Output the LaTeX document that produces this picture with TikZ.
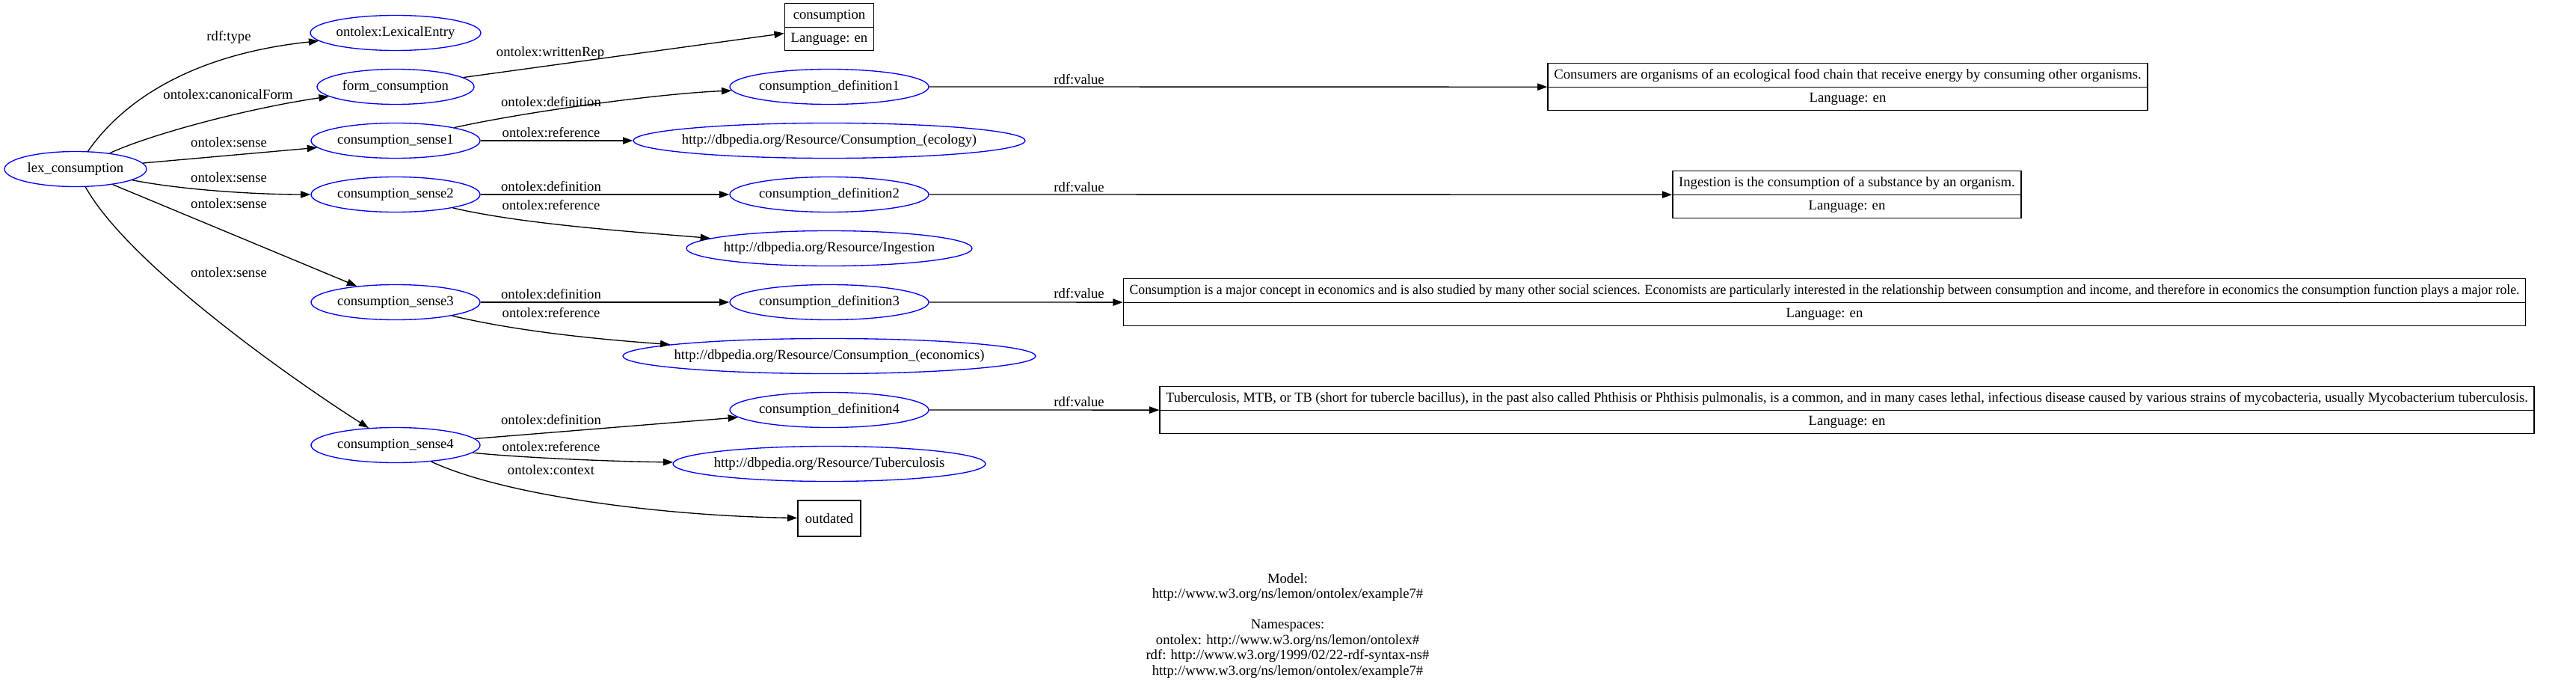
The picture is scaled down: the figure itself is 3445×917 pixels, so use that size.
\documentclass[tikz,border=0pt]{standalone}
\usepackage{fontspec}
\usepackage{graphicx}
\setmainfont{Liberation Serif}
\usetikzlibrary{shapes.geometric, arrows.meta, fit}
\begin{document}
\begin{tikzpicture}[x=0.75pt, y=-0.75pt,
  every node/.style={font=\fontsize{14}{15.375}\selectfont},
  ell/.style={ellipse, draw=blue, line width=1pt, inner sep=0pt, minimum height=35.25pt},
  lbl/.style={inner sep=0pt, text height=10pt, text depth=2pt},
  cell/.style={inner xsep=6pt, inner ysep=0pt, minimum height=23.25pt, text height=10pt, text depth=3pt},
  recbox/.style={draw, line width=1pt, inner sep=0pt},
  arr/.style={draw, line width=1pt, -{Triangle[length=10pt,width=7pt]}},
  rule/.style={line width=1pt}
]
\useasboundingbox (0,0) rectangle (3445,917);

% entity nodes
\node[ell, minimum width=190*0.75pt] (lex) at (101,226) {\makebox[0pt]{lex\_consumption}};
\node[ell, minimum width=228*0.75pt] (lexent) at (529,44) {\makebox[0pt]{ontolex:LexicalEntry}};
\node[ell, minimum width=210*0.75pt] (form) at (529,116) {\makebox[0pt]{form\_consumption}};
\node[ell, minimum width=226*0.75pt] (s1) at (529,188) {\makebox[0pt]{consumption\_sense1}};
\node[ell, minimum width=226*0.75pt] (s2) at (529,260) {\makebox[0pt]{consumption\_sense2}};
\node[ell, minimum width=226*0.75pt] (s3) at (529,404) {\makebox[0pt]{consumption\_sense3}};
\node[ell, minimum width=226*0.75pt] (s4) at (529,595) {\makebox[0pt]{consumption\_sense4}};
\node[ell, minimum width=266*0.75pt] (def1) at (1109,116) {\makebox[0pt]{consumption\_definition1}};
\node[ell, minimum width=266*0.75pt] (def2) at (1109,260) {\makebox[0pt]{consumption\_definition2}};
\node[ell, minimum width=266*0.75pt] (def3) at (1109,404) {\makebox[0pt]{consumption\_definition3}};
\node[ell, minimum width=266*0.75pt] (def4) at (1109,548) {\makebox[0pt]{consumption\_definition4}};
\node[ell, minimum width=524*0.75pt] (ecol) at (1109,188) {\makebox[0pt]{http://dbpedia.org/Resource/Consumption\_(ecology)}};
\node[ell, minimum width=382*0.75pt] (ingest) at (1109,332) {\makebox[0pt]{http://dbpedia.org/Resource/Ingestion}};
\node[ell, minimum width=552*0.75pt] (econ) at (1109,476) {\makebox[0pt]{http://dbpedia.org/Resource/Consumption\_(economics)}};
\node[ell, minimum width=418*0.75pt] (tuber) at (1109,620) {\makebox[0pt]{http://dbpedia.org/Resource/Tuberculosis}};
\node[recbox, minimum width=84*0.75pt, minimum height=48*0.75pt] (outd) at (1109,693) {outdated};

% literal records
\node[cell] (c0t) at (1109,20.5) {consumption};
\node[cell, anchor=north] (c0b) at (c0t.south) {Language: en};
\node[recbox, fit=(c0t)(c0b)] (cons) {};
\draw[rule] (cons.west) -- (cons.east);

\node[cell] (b1t) at (2471,100.5) {Consumers are organisms of an ecological food chain that receive energy by consuming other organisms.};
\node[cell, anchor=north] (b1b) at (b1t.south) {Language: en};
\node[recbox, fit=(b1t)(b1b)] (box1) {};
\draw[rule] (box1.west) -- (box1.east);

\node[cell] (b2t) at (2470,244.5) {Ingestion is the consumption of a substance by an organism.};
\node[cell, anchor=north] (b2b) at (b2t.south) {Language: en};
\node[recbox, fit=(b2t)(b2b)] (box2) {};
\draw[rule] (box2.west) -- (box2.east);

\node[cell] (b3t) at (2440,388.5) {\resizebox{1394pt}{\height}{Consumption is a major concept in economics and is also studied by many other social sciences. Economists are particularly interested in the relationship between consumption and income, and therefore in economics the consumption function plays a major role.}};
\node[cell, anchor=north] (b3b) at (b3t.south) {Language: en};
\node[recbox, fit=(b3t)(b3b)] (box3) {};
\draw[rule] (box3.west) -- (box3.east);

\node[cell] (b4t) at (2470,532.5) {\resizebox{1366pt}{\height}{Tuberculosis, MTB, or TB (short for tubercle bacillus), in the past also called Phthisis or Phthisis pulmonalis, is a common, and in many cases lethal, infectious disease caused by various strains of mycobacteria, usually Mycobacterium tuberculosis.}};
\node[cell, anchor=north] (b4b) at (b4t.south) {Language: en};
\node[recbox, fit=(b4t)(b4b)] (box4) {};
\draw[rule] (box4.west) -- (box4.east);

% connectors
\draw[arr] (lex) .. controls (175,120) and (280,70) .. (lexent);
\draw[arr] (lex) .. controls (200,180) and (330,145) .. (form);
\draw[arr] (lex) -- (s1);
\draw[arr] (lex) .. controls (250,255) and (350,260) .. (s2);
\draw[arr] (lex) -- (s3);
\draw[arr] (lex) .. controls (170,350) and (380,500) .. (s4);
\draw[arr] (form) -- (cons);
\draw[arr] (s1) .. controls (700,150) and (880,125) .. (def1);
\draw[arr] (s1) -- (ecol);
\draw[arr] (s2) -- (def2);
\draw[arr] (s2) .. controls (700,300) and (850,310) .. (ingest);
\draw[arr] (s3) -- (def3);
\draw[arr] (s3) .. controls (700,445) and (820,455) .. (econ);
\draw[arr] (s4) -- (def4);
\draw[arr] (s4) .. controls (700,612) and (820,617) .. (tuber);
\draw[arr] (s4) .. controls (680,665) and (900,690) .. (outd);
\draw[arr] (def1) -- (box1);
\draw[arr] (def2) -- (box2);
\draw[arr] (def3) -- (box3);
\draw[arr] (def4) -- (box4);

% edge labels
\node[lbl] (l1) at (306,49) {rdf:type};
\node[lbl] (l2) at (305,127) {ontolex:canonicalForm};
\node[lbl] (l3) at (306,191) {ontolex:sense};
\node[lbl] (l4) at (306,238) {ontolex:sense};
\node[lbl] (l5) at (306,273) {ontolex:sense};
\node[lbl] (l6) at (306,365) {ontolex:sense};
\node[lbl] (l7) at (736,70) {ontolex:writtenRep};
\node[lbl] (l8) at (737,137) {ontolex:definition};
\node[lbl] (l9) at (737,178) {ontolex:reference};
\node[lbl] (l10) at (737,250) {ontolex:definition};
\node[lbl] (l11) at (737,275) {ontolex:reference};
\node[lbl] (l12) at (737,394) {ontolex:definition};
\node[lbl] (l13) at (737,419) {ontolex:reference};
\node[lbl] (l14) at (737,562) {ontolex:definition};
\node[lbl] (l15) at (737,598) {ontolex:reference};
\node[lbl] (l16) at (737,629) {ontolex:context};
\node[lbl] (v1) at (1443,107) {rdf:value};
\node[lbl] (v2) at (1443,251) {rdf:value};
\node[lbl] (v3) at (1443,393) {rdf:value};
\node[lbl] (v4) at (1443,538) {rdf:value};

% footer
\node[align=center, anchor=north, inner sep=0pt] (legend) at (1722,766) {Model:\\http://www.w3.org/ns/lemon/ontolex/example7\#\\ \strut\\Namespaces:\\ontolex: http://www.w3.org/ns/lemon/ontolex\#\\rdf: http://www.w3.org/1999/02/22-rdf-syntax-ns\#\\http://www.w3.org/ns/lemon/ontolex/example7\#};
\end{tikzpicture}
\end{document}
